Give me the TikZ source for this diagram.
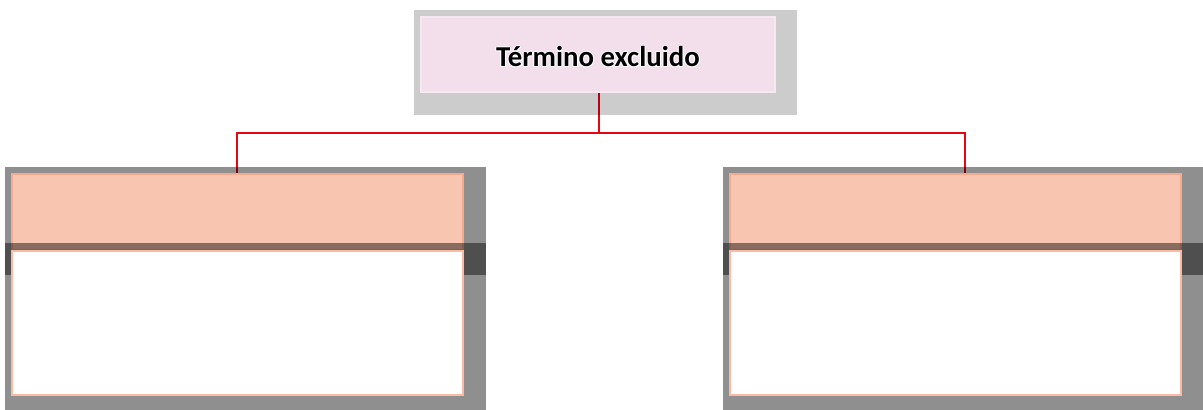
\documentclass[tikz,border=0pt]{standalone}
\usepackage{fontspec}
\setmainfont{Carlito}
\definecolor{toppink}{HTML}{F2DFEB}
\definecolor{topedge}{HTML}{F6E8F1}
\definecolor{salmon}{HTML}{F8C6B0}
\definecolor{salmonedge}{HTML}{F4AA8E}
\definecolor{whiteedge}{HTML}{F9BBA3}
\definecolor{linkred}{HTML}{E30613}
\tikzset{
  headbox/.style={fill=salmon, draw=salmonedge, line width=2pt, inner sep=0pt},
  bodybox/.style={fill=white, draw=whiteedge, line width=2.2pt, inner sep=0pt},
  band/.style={fill=black, fill opacity=0.45, draw=none},
  conn/.style={draw=linkred, line width=2pt},
  termtext/.style={anchor=base, inner sep=0pt, font=\bfseries\fontsize{21.6}{24}\selectfont},
}
\begin{document}
\begin{tikzpicture}[x=0.75pt,y=-0.75pt]
\useasboundingbox (0,0) rectangle (1203,410);
% connectors (drawn first, gray frames darken them)
\coordinate (mid) at (599,133);
\coordinate (lt) at (237,174);
\coordinate (rt) at (965,174);
\coordinate (ts) at (599,92);
\draw[conn] (ts) -- (mid);
\draw[conn] (mid) -| (lt);
\draw[conn] (mid) -| (rt);
% gray frames
\fill[black, fill opacity=0.2] (414,10) rectangle (797,115);
\fill[black, fill opacity=0.44] (5,167) rectangle (486,410);
\fill[black, fill opacity=0.44] (723,167) rectangle (1203,410);
% top term box
\node[fill=toppink, draw=topedge, line width=0.8pt, minimum width=354*0.75pt, minimum height=75*0.75pt, inner sep=0pt] (top) at (598,54.5) {};
\foreach \dx/\dy in {-1/0,1/0,0/-1,0/1,-0.8/-0.8,0.8/0.8,-0.8/0.8,0.8/-0.8}
  \node[termtext, text=white] at (598+\dx,67+\dy) {Término excluido};
\node[termtext] (toplabel) at (598,67) {Término excluido};
% lower header boxes
\draw[headbox] (12,174) rectangle (463,250);
\draw[headbox] (730,174) rectangle (1181,250);
% dark bands
\fill[band] (5,243) rectangle (486,275);
\fill[band] (723,243) rectangle (1203,275);
% body boxes
\draw[bodybox] (12,251) rectangle (463,395);
\draw[bodybox] (730,251) rectangle (1181,395);
\end{tikzpicture}
\end{document}
